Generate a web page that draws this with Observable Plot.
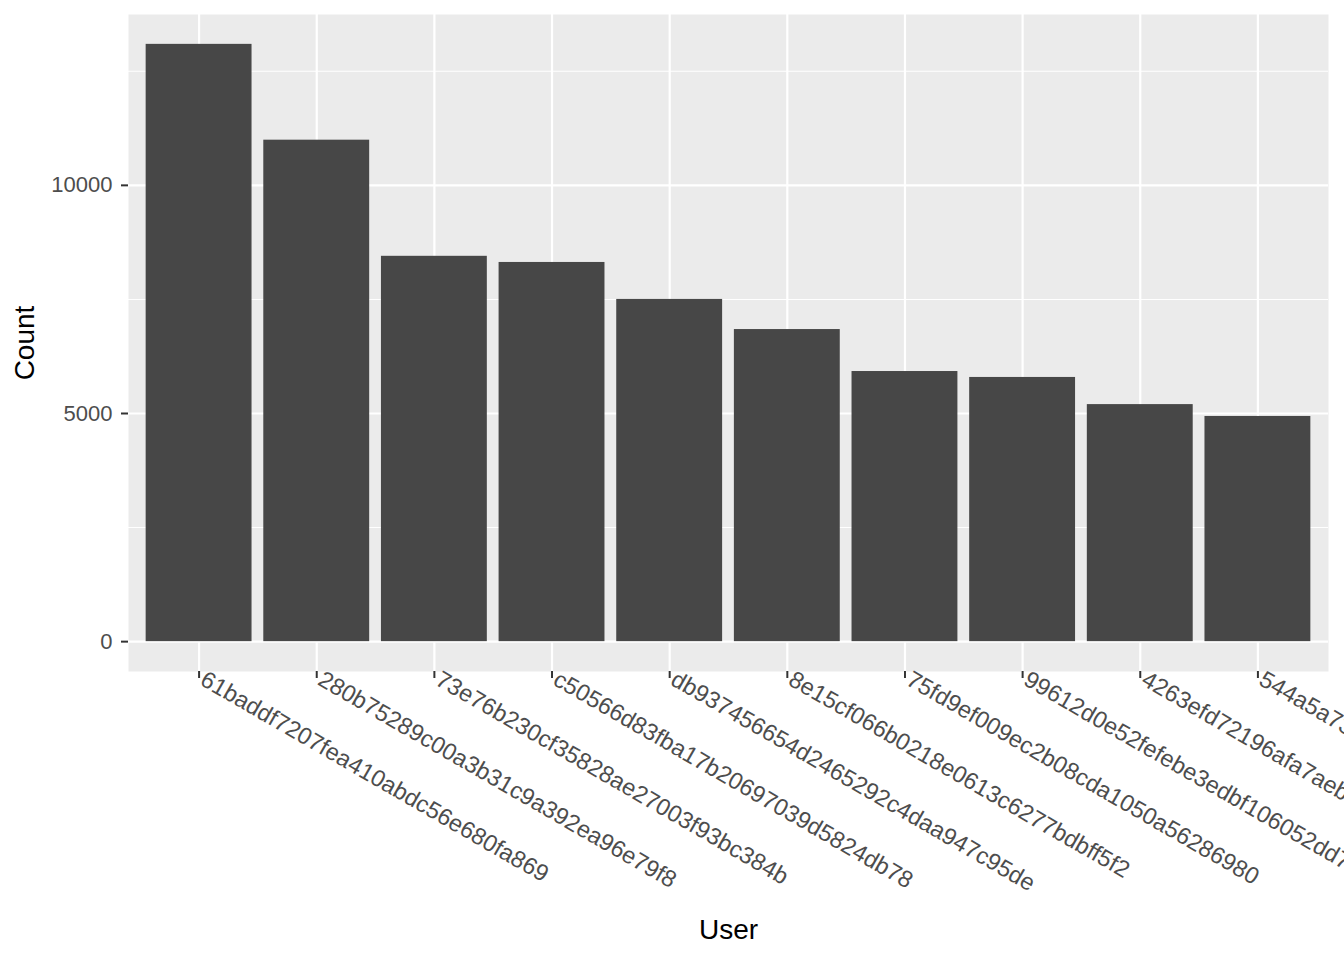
<!DOCTYPE html>
<html>
<head>
<meta charset="utf-8">
<script src="https://cdn.jsdelivr.net/npm/d3@7"></script>
<script src="https://cdn.jsdelivr.net/npm/@observablehq/plot@0.6"></script>
<style>
  html, body { margin: 0; padding: 0; background: white; overflow: hidden; }
  #chart svg { display: block; overflow: hidden; }
</style>
</head>
<body>
<div id="chart"></div>
<script>
const users = [
  "61baddf7207fea410abdc56e680fa869",
  "280b75289c00a3b31c9a392ea96e79f8",
  "73e76b230cf35828ae27003f93bc384b",
  "c50566d83fba17b20697039d5824db78",
  "db937456654d2465292c4daa947c95de",
  "8e15cf066b0218e0613c6277bdbff5f2",
  "75fd9ef009ec2b08cda1050a56286980",
  "99612d0e52fefebe3edbf106052dd7a1",
  "4263efd72196afa7aeb0c3d1e5f2a8b4",
  "544a5a73c0e8d2b1f6a9e4c7b3d50f12"
];
const counts = [13090, 10990, 8445, 8310, 7500, 6840, 5920, 5790, 5195, 4935];
const majorY = [0, 5000, 10000];
const minorY = [2500, 7500, 12500];

const data = users.map((u, i) => ({user: u, count: counts[i]}));
const maxC = d3.max(counts);
const pad = maxC * 0.05;

const chart = Plot.plot({
  width: 1344,
  height: 960,
  marginTop: 14,
  marginBottom: 289,
  marginLeft: 128,
  marginRight: 16,
  style: {fontFamily: "Liberation Sans, Arial, sans-serif", background: "white"},
  x: {domain: users, type: "band", paddingInner: 0.1, paddingOuter: 0.15, align: 0.5, round: false, label: null},
  y: {domain: [-pad, maxC + pad], label: null},
  marks: [
    Plot.frame({fill: "#ebebeb", stroke: null}),
    Plot.ruleY(minorY, {stroke: "white", strokeWidth: 1.1}),
    Plot.ruleY(majorY, {stroke: "white", strokeWidth: 2.2}),
    Plot.ruleX(users, {x: d => d, stroke: "white", strokeWidth: 2.2}),
    Plot.barY(data, {x: "user", y: "count", fill: "#474747"}),
    Plot.axisY({ticks: majorY, tickFormat: d3.format("d"), tickSize: 7, tickPadding: 9,
      fontSize: 22, color: "#4d4d4d", stroke: "#333333", strokeWidth: 2, label: null}),
    Plot.axisX({tickSize: 7, tickFormat: () => "", stroke: "#333333", strokeWidth: 2, label: null}),
    Plot.text(users, {x: d => d, text: d => d, frameAnchor: "bottom", dy: -2, dx: 8,
      rotate: 30, textAnchor: "start", lineAnchor: "top", fontSize: 23.5, fill: "#4d4d4d"}),
    Plot.text(["User"], {frameAnchor: "bottom", dy: 259, fontSize: 28, fill: "black", textAnchor: "middle", lineAnchor: "middle"}),
    Plot.text(["Count"], {frameAnchor: "left", dx: -103, rotate: -90, fontSize: 28, fill: "black", textAnchor: "middle", lineAnchor: "middle"})
  ]
});
document.getElementById("chart").appendChild(chart);
</script>
</body>
</html>
